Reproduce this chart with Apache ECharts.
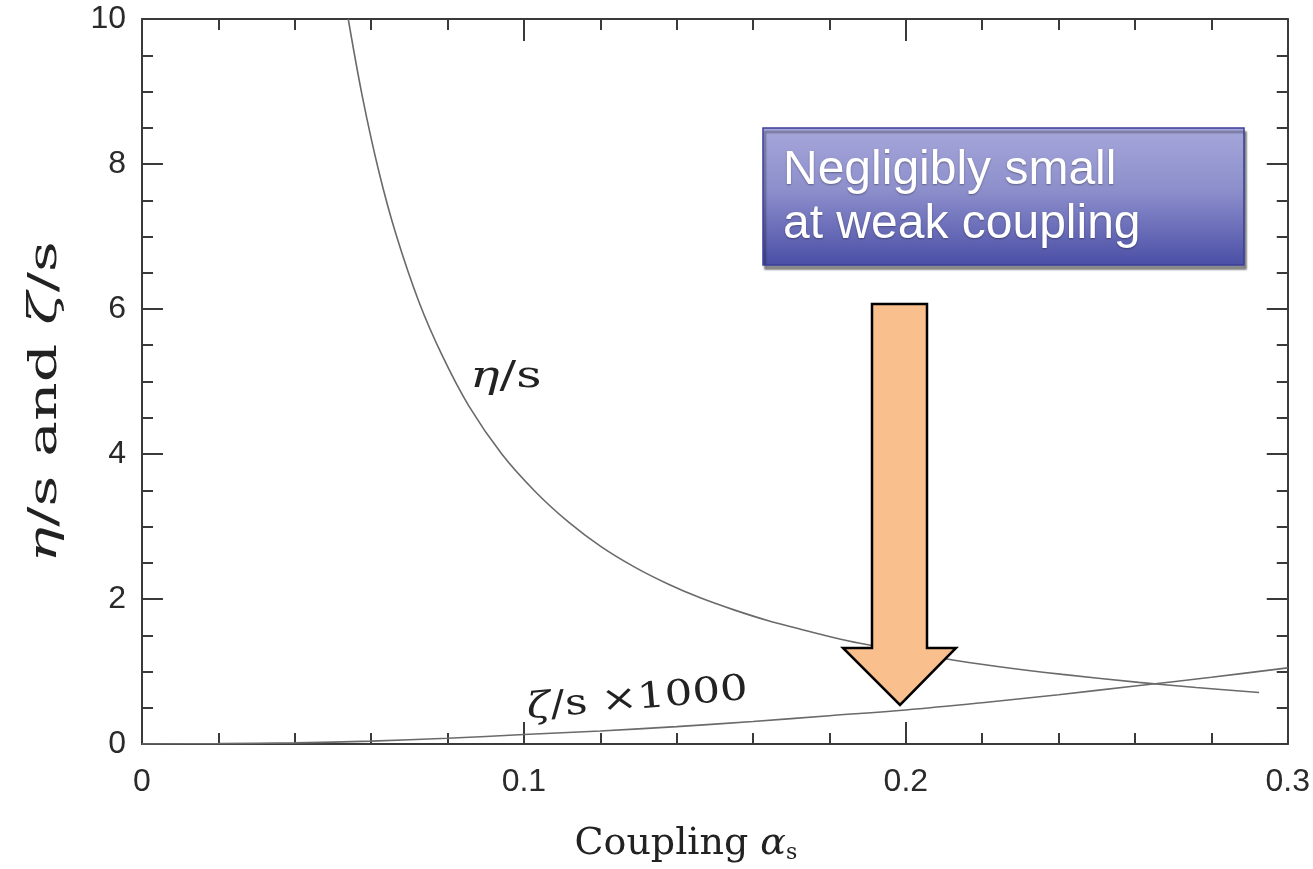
<!DOCTYPE html>
<html>
<head>
<meta charset="utf-8">
<title>Shear and bulk viscosity vs coupling</title>
<script src="https://cdn.jsdelivr.net/npm/echarts@6/dist/echarts.min.js"></script>
<style>
  html, body { margin: 0; padding: 0; background: #fff; }
  #chart { width: 1313px; height: 869px; }
</style>
</head>
<body>
<div id="chart"></div>
<script>
// Shear viscosity over entropy density, eta/s, versus coupling alpha_s
const alphaEta = [0.054, 0.0577, 0.062, 0.0665, 0.0725, 0.0785, 0.0856, 0.0942, 0.103, 0.1117,
                  0.120, 0.129, 0.138, 0.146, 0.155, 0.164, 0.172, 0.181, 0.188, 0.21,
                  0.224, 0.241, 0.261, 0.276, 0.2925];
const etaOverS = [10.0, 8.93, 7.90, 7.03, 6.10, 5.37, 4.66, 4.00, 3.48, 3.06,
                  2.73, 2.44, 2.20, 2.02, 1.85, 1.70, 1.59, 1.47, 1.39, 1.18,
                  1.07, 0.96, 0.85, 0.78, 0.71];

// Bulk viscosity over entropy density, zeta/s, scaled by 1000
const alphaZeta = [0, 0.02, 0.04, 0.06, 0.08, 0.10, 0.12, 0.14, 0.16, 0.18,
                   0.20, 0.22, 0.24, 0.26, 0.28, 0.30];
const zetaOverS1000 = [0, 0.005, 0.015, 0.04, 0.08, 0.13, 0.18, 0.24, 0.31, 0.39,
                       0.47, 0.57, 0.68, 0.80, 0.92, 1.05];

// Axis ticks
const xTicks = [0, 0.1, 0.2, 0.3];
const yTicks = [0, 2, 4, 6, 8, 10];

const pairs = (xs, ys) => xs.map((x, i) => [x, ys[i]]);

const axisColor = '#3a3a3a';
const curveColor = '#6a6a6a';
const tickFont = { fontFamily: 'Liberation Sans', fontSize: 32, color: '#2a2a2a' };

const chart = echarts.init(document.getElementById('chart'), null, { renderer: 'canvas' });

const sharedX = {
  type: 'value', min: xTicks[0], max: xTicks[xTicks.length - 1], interval: 0.1,
  axisLine: { show: true, onZero: false, lineStyle: { color: axisColor, width: 2 } },
  axisTick: { show: true, inside: true, length: 22, lineStyle: { color: axisColor, width: 2 } },
  minorTick: { show: true, splitNumber: 5, length: 11, lineStyle: { color: axisColor, width: 2 } },
  splitLine: { show: false }
};
const sharedY = {
  type: 'value', min: yTicks[0], max: yTicks[yTicks.length - 1], interval: 2,
  axisLine: { show: true, onZero: false, lineStyle: { color: axisColor, width: 2 } },
  axisTick: { show: true, inside: true, length: 21, lineStyle: { color: axisColor, width: 2 } },
  minorTick: { show: true, splitNumber: 4, length: 11, lineStyle: { color: axisColor, width: 2 } },
  splitLine: { show: false }
};

chart.setOption({
  animation: false,
  backgroundColor: '#ffffff',
  grid: { left: 142, right: 21, top: 19, bottom: 120, containLabel: false },
  xAxis: [
    Object.assign({}, sharedX, {
      position: 'bottom',
      axisLabel: Object.assign({ margin: 22, formatter: v => (v === 0 ? '0' : String(v)) }, tickFont),
      name: '{t|Coupling }{a|α}{s|s}',
      nameLocation: 'middle',
      nameGap: 80,
      nameTextStyle: {
        padding: [0, 58, 0, 0],
        rich: {
          t: { fontFamily: 'DejaVu Serif', fontSize: 38, color: '#222' },
          a: { fontFamily: 'DejaVu Serif', fontStyle: 'italic', fontSize: 38, color: '#222' },
          s: { fontFamily: 'DejaVu Serif', fontSize: 22, color: '#222', padding: [18, 0, 0, 0] }
        }
      }
    }),
    Object.assign({}, sharedX, { position: 'top', axisLabel: { show: false } })
  ],
  yAxis: [
    Object.assign({}, sharedY, {
      position: 'left',
      axisLabel: Object.assign({ margin: 16 }, tickFont)
    }),
    Object.assign({}, sharedY, { position: 'right', axisLabel: { show: false } })
  ],
  series: [
    {
      name: 'η/s',
      type: 'line',
      data: pairs(alphaEta, etaOverS),
      showSymbol: false,
      smooth: 0.35,
      lineStyle: { color: curveColor, width: 1.6 },
      z: 2
    },
    {
      name: 'ζ/s ×1000',
      type: 'line',
      data: pairs(alphaZeta, zetaOverS1000),
      showSymbol: false,
      smooth: 0.35,
      lineStyle: { color: curveColor, width: 1.6 },
      z: 2
    }
  ],
  graphic: [
    // vertical axis title, drawn in a stretched serif face
    {
      type: 'text', x: 46, y: 402, z: 5,
      rotation: Math.PI / 2, scaleX: 1.5, scaleY: 1,
      style: {
        text: '{e|η}{t|/s and }{e|ζ}{t|/s}',
        align: 'center', verticalAlign: 'middle',
        rich: {
          e: { fontFamily: 'DejaVu Serif', fontStyle: 'italic', fontSize: 40, fill: '#222' },
          t: { fontFamily: 'DejaVu Serif', fontSize: 40, fill: '#222' }
        }
      }
    },
    // curve labels
    {
      type: 'text', x: 470, y: 377, z: 5, scaleX: 1.3,
      style: {
        text: '{e|η}{t|/s}',
        verticalAlign: 'middle',
        rich: {
          e: { fontFamily: 'DejaVu Serif', fontStyle: 'italic', fontSize: 38, fill: '#222' },
          t: { fontFamily: 'DejaVu Serif', fontSize: 38, fill: '#222' }
        }
      }
    },
    {
      type: 'text', x: 527, y: 709, z: 5, rotation: 5 * Math.PI / 180, scaleX: 1.28, scaleY: 1.05,
      style: {
        text: '{e|ζ}{t|/s ×1000}',
        verticalAlign: 'middle',
        rich: {
          e: { fontFamily: 'DejaVu Serif', fontStyle: 'italic', fontSize: 34, fill: '#222' },
          t: { fontFamily: 'DejaVu Serif', fontSize: 34, fill: '#222' }
        }
      }
    },
    // callout box
    {
      type: 'rect', z: 10,
      shape: { x: 763, y: 128, width: 481, height: 137 },
      style: {
        fill: new echarts.graphic.LinearGradient(0, 0, 0, 1, [
          { offset: 0, color: '#a6a7da' },
          { offset: 0.45, color: '#8d8fcc' },
          { offset: 1, color: '#4a4ea5' }
        ]),
        stroke: '#3a3e98',
        lineWidth: 1.5,
        shadowColor: 'rgba(0,0,0,0.45)',
        shadowBlur: 2,
        shadowOffsetX: 2,
        shadowOffsetY: 4
      }
    },
    {
      type: 'text', x: 783, y: 171, z: 11,
      style: {
        text: 'Negligibly small',
        fontFamily: 'Liberation Sans', fontSize: 48, fill: '#ffffff',
        verticalAlign: 'middle',
        textShadowColor: 'rgba(0,0,0,0.35)', textShadowBlur: 2, textShadowOffsetY: 1
      }
    },
    {
      type: 'text', x: 783, y: 225, z: 11,
      style: {
        text: 'at weak coupling',
        fontFamily: 'Liberation Sans', fontSize: 48, fill: '#ffffff',
        verticalAlign: 'middle',
        textShadowColor: 'rgba(0,0,0,0.35)', textShadowBlur: 2, textShadowOffsetY: 1
      }
    },
    // downward block arrow
    {
      type: 'polygon', z: 10,
      shape: { points: [[872, 304], [927, 304], [927, 648], [956, 648], [900, 705], [843, 648], [872, 648]] },
      style: { fill: '#f9c08e', stroke: '#000000', lineWidth: 2.5, lineJoin: 'miter' }
    }
  ]
});
</script>
</body>
</html>
